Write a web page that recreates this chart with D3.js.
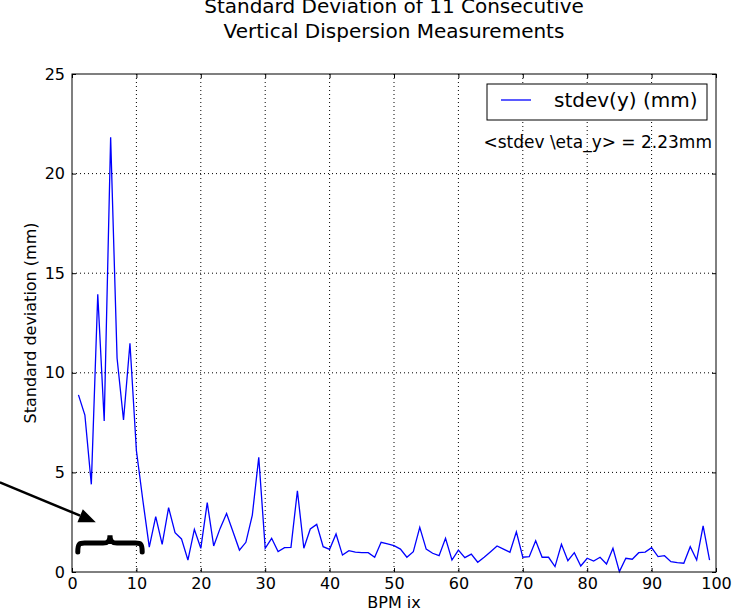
<!DOCTYPE html>
<html>
<head>
<meta charset="utf-8">
<script src="https://cdn.jsdelivr.net/npm/d3@7"></script>
<style>
  body { margin: 0; background: #fff; }
  text { font-family: "DejaVu Sans", sans-serif; fill: #000; }
</style>
</head>
<body>
<div id="chart"></div>
<script>
// values, one per BPM index (1..99)
var stdevY = [
  8.89, 7.88, 4.40, 13.94, 7.58, 21.82, 10.73, 7.63, 11.48, 6.10,
  3.60, 1.25, 2.78, 1.39, 3.23, 1.97, 1.66, 0.60, 2.14, 1.19,
  3.48, 1.31, 2.19, 2.94, 2.02, 1.10, 1.49, 2.86, 5.76, 1.19,
  1.69, 1.03, 1.22, 1.24, 4.08, 1.19, 2.16, 2.39, 1.27, 1.14,
  1.91, 0.85, 1.07, 1.00, 0.97, 0.97, 0.74, 1.49, 1.41, 1.32,
  1.15, 0.74, 1.02, 2.24, 1.15, 0.94, 0.82, 1.69, 0.60, 1.10,
  0.72, 0.90, 0.49, 0.74, 1.02, 1.31, 1.15, 0.99, 2.02, 0.74,
  0.77, 1.57, 0.74, 0.74, 0.27, 1.39, 0.57, 0.97, 0.30, 0.69,
  0.55, 0.74, 0.40, 1.19, 0.02, 0.69, 0.64, 0.97, 1.00, 1.22,
  0.77, 0.82, 0.52, 0.47, 0.44, 1.27, 0.60, 2.31, 0.60
];
var bpmIndex = d3.range(1, stdevY.length + 1);

var xTicks = [0, 10, 20, 30, 40, 50, 60, 70, 80, 90, 100];
var yTicks = [0, 5, 10, 15, 20, 25];

var titleLines = ["Standard Deviation of 11 Consecutive", "Vertical Dispersion Measurements"];
var legendLabel = "stdev(y) (mm)";
var meanLabel = "<stdev \\eta_y> = 2.23mm";

var svgWidth = 741, svgHeight = 612;
var margin = { top: 74, right: 25, bottom: 40, left: 72 };
var chartWidth = svgWidth - margin.left - margin.right;
var chartHeight = svgHeight - margin.top - margin.bottom;

var svg = d3.select("#chart").append("svg")
  .attr("width", svgWidth)
  .attr("height", svgHeight);

var chartGroup = svg.append("g")
  .attr("transform", `translate(${margin.left}, ${margin.top})`);

var xScale = d3.scaleLinear().domain([0, 100]).range([0, chartWidth]);
var yScale = d3.scaleLinear().domain([0, 25]).range([chartHeight, 0]);

// dotted grid
chartGroup.append("g").selectAll("line")
  .data(xTicks.slice(1, -1))
  .enter().append("line")
    .attr("x1", d => xScale(d)).attr("x2", d => xScale(d))
    .attr("y1", 0).attr("y2", chartHeight)
    .attr("stroke", "#000").attr("stroke-dasharray", "1,3");
chartGroup.append("g").selectAll("line")
  .data(yTicks.slice(1, -1))
  .enter().append("line")
    .attr("y1", d => yScale(d)).attr("y2", d => yScale(d))
    .attr("x1", 0).attr("x2", chartWidth)
    .attr("stroke", "#000").attr("stroke-dasharray", "1,3");

// axes, ticks pointing inside
var xAxis = d3.axisBottom(xScale).tickValues(xTicks).tickSize(-4).tickPadding(6);
var yAxis = d3.axisLeft(yScale).tickValues(yTicks).tickSize(-4).tickPadding(7);

var gx = chartGroup.append("g")
  .attr("transform", `translate(0, ${chartHeight})`)
  .call(xAxis);
var gy = chartGroup.append("g").call(yAxis);
var gt = chartGroup.append("g")
  .call(d3.axisTop(xScale).tickValues(xTicks).tickSize(-4).tickFormat(""));
var gr = chartGroup.append("g")
  .attr("transform", `translate(${chartWidth}, 0)`)
  .call(d3.axisRight(yScale).tickValues(yTicks).tickSize(-4).tickFormat(""));

[gx, gy, gt, gr].forEach(function(g) {
  g.select(".domain").remove();
  g.selectAll("line").attr("stroke", "#000");
  g.selectAll("text").style("font-size", "16px").attr("fill", "#000");
});

// data line
var line = d3.line()
  .x((d, i) => xScale(bpmIndex[i]))
  .y(d => yScale(d));

chartGroup.append("path")
  .datum(stdevY)
  .attr("d", line)
  .attr("fill", "none")
  .attr("stroke", "#0000ff")
  .attr("stroke-width", 1.3);

// frame
chartGroup.append("rect")
  .attr("width", chartWidth).attr("height", chartHeight)
  .attr("fill", "none").attr("stroke", "#000").attr("stroke-width", 1);

// legend
var legend = chartGroup.append("g")
  .attr("transform", `translate(${chartWidth - 229}, 10)`);
legend.append("rect")
  .attr("width", 220).attr("height", 36)
  .attr("fill", "#fff").attr("stroke", "#000");
legend.append("line")
  .attr("x1", 14).attr("x2", 44).attr("y1", 16).attr("y2", 16)
  .attr("stroke", "#0000ff").attr("stroke-width", 1.3);
legend.append("text")
  .attr("x", 67).attr("y", 23)
  .style("font-size", "20px")
  .text(legendLabel);

chartGroup.append("text")
  .attr("x", chartWidth - 4).attr("y", 74)
  .attr("text-anchor", "end")
  .style("font-size", "17px")
  .text(meanLabel);

// annotation: arrow and brace over the first ten BPMs
var tipX = xScale(3.7), tipY = yScale(2.5);
var startX = xScale(-11.2), startY = yScale(4.5);
var ang = Math.atan2(tipY - startY, tipX - startX);
var headLen = 17, headW = 7;
var baseX = tipX - headLen * Math.cos(ang), baseY = tipY - headLen * Math.sin(ang);

chartGroup.append("line")
  .attr("x1", startX).attr("y1", startY)
  .attr("x2", baseX).attr("y2", baseY)
  .attr("stroke", "#000").attr("stroke-width", 2.5);
chartGroup.append("path")
  .attr("d", `M${tipX},${tipY} L${baseX + headW * Math.sin(ang)},${baseY - headW * Math.cos(ang)} L${baseX - headW * Math.sin(ang)},${baseY + headW * Math.cos(ang)} Z`)
  .attr("fill", "#000");

var bx0 = xScale(0.9), bx1 = xScale(10.9), bxm = (bx0 + bx1) / 2;
var byTop = yScale(1.85), byMid = yScale(1.45), byBot = yScale(1.0);
chartGroup.append("path")
  .attr("d", `M${bx0},${byBot} C${bx0},${byMid - 1} ${bx0 + 2},${byMid} ${bx0 + 9},${byMid}` +
    ` L${bxm - 7},${byMid} C${bxm - 2},${byMid} ${bxm},${byMid - 2} ${bxm},${byTop}` +
    ` C${bxm},${byMid - 2} ${bxm + 2},${byMid} ${bxm + 7},${byMid}` +
    ` L${bx1 - 9},${byMid} C${bx1 - 2},${byMid} ${bx1},${byMid - 1} ${bx1},${byBot}`)
  .attr("fill", "none").attr("stroke", "#000").attr("stroke-width", 5)
  .attr("stroke-linecap", "round");

// titles and axis labels
svg.append("text")
  .attr("text-anchor", "middle")
  .style("font-size", "20px")
  .selectAll("tspan")
  .data(titleLines)
  .enter().append("tspan")
    .attr("x", margin.left + chartWidth / 2)
    .attr("y", (d, i) => 13 + i * 25)
    .text(d => d);

svg.append("text")
  .attr("x", margin.left + chartWidth / 2)
  .attr("y", svgHeight - 4)
  .attr("text-anchor", "middle")
  .style("font-size", "16px")
  .text("BPM ix");

svg.append("text")
  .attr("transform", `translate(36, ${margin.top + chartHeight / 2}) rotate(-90)`)
  .attr("text-anchor", "middle")
  .style("font-size", "16px")
  .text("Standard deviation (mm)");
</script>
</body>
</html>
